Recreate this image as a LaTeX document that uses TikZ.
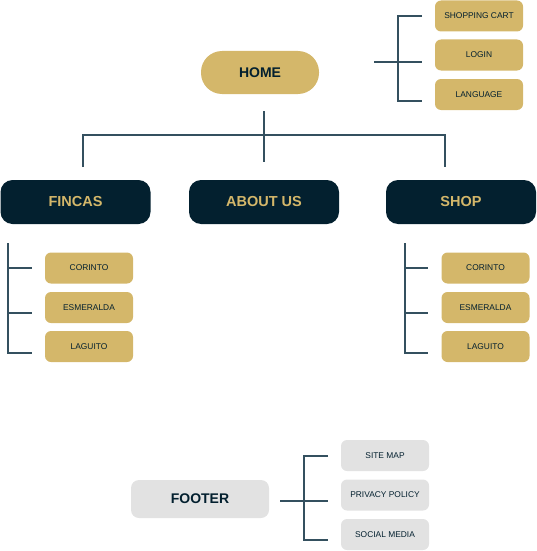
\documentclass[tikz,border=0pt]{standalone}
\usepackage{fontspec}
\setmainfont{Liberation Sans}
\definecolor{gold}{HTML}{D4B76A}
\definecolor{navy}{HTML}{03202F}
\definecolor{lgray}{HTML}{E2E2E2}
\definecolor{linec}{HTML}{34505F}
\begin{document}
\begin{tikzpicture}[x=1pt,y=-1pt,
  homebox/.style={fill=gold,text=navy,minimum width=118pt,minimum height=43pt,inner sep=0pt,rounded corners=21pt,font=\bfseries\fontsize{14}{16}\selectfont},
  mainbox/.style={fill=navy,text=gold,minimum width=150pt,minimum height=44pt,inner sep=0pt,rounded corners=12pt,font=\bfseries\fontsize{14.5}{16}\selectfont},
  smallbox/.style={fill=gold,text=navy,minimum width=88pt,minimum height=31pt,inner sep=0pt,rounded corners=6pt,font=\fontsize{8.4}{9}\selectfont},
  graybox/.style={fill=lgray,text=navy,minimum width=88pt,minimum height=31pt,inner sep=0pt,rounded corners=6pt,font=\fontsize{8.4}{9}\selectfont},
  footbox/.style={fill=lgray,text=navy,minimum width=138pt,minimum height=38pt,inner sep=0pt,rounded corners=8pt,font=\bfseries\fontsize{14}{16}\selectfont},
  link/.style={draw=linec,line width=1.25pt}]
\useasboundingbox (0,0) rectangle (537,551);

% nodes
\node[homebox] (home) at (260,72.5) {HOME};
\node[smallbox] (cart) at (479,16) {SHOPPING CART};
\node[smallbox] (login) at (479,55) {LOGIN};
\node[smallbox] (lang) at (479,94.5) {LANGUAGE};

\node[mainbox] (fincas) at (75.5,202) {FINCAS};
\node[mainbox] (about) at (264,202) {ABOUT US};
\node[mainbox] (shop) at (461,202) {SHOP};

\node[smallbox] (lcor) at (89,268) {CORINTO};
\node[smallbox] (lesm) at (89,307.5) {ESMERALDA};
\node[smallbox] (llag) at (89,346.5) {LAGUITO};

\node[smallbox] (rcor) at (485.5,268) {CORINTO};
\node[smallbox] (resm) at (485.5,307.5) {ESMERALDA};
\node[smallbox] (rlag) at (485.5,346.5) {LAGUITO};

\node[footbox] (footer) at (200,499) {FOOTER};
\node[graybox] (site) at (385,455.5) {SITE MAP};
\node[graybox] (priv) at (385,495) {PRIVACY POLICY};
\node[graybox] (soc) at (385,534.5) {SOCIAL MEDIA};

% top-right bracket
\coordinate (hb0) at (374,62);
\coordinate (hbt) at (398,16);
\coordinate (hbb) at (398,101);
\coordinate (hb1) at (422,16);
\coordinate (hb2) at (422,62);
\coordinate (hb3) at (422,101);
\draw[link] (hb0) -- (hb2);
\draw[link] (hb1) -- (hbt) -- (hbb) -- (hb3);

% tree
\coordinate (t0) at (264,111);
\coordinate (t1) at (264,162);
\coordinate (tl) at (83,167);
\coordinate (tlt) at (83,135);
\coordinate (trt) at (445,135);
\coordinate (tr) at (445,167);
\draw[link] (t0) -- (t1);
\draw[link] (tl) -- (tlt) -- (trt) -- (tr);

% left bracket
\coordinate (lt) at (8,243);
\coordinate (l1a) at (8,268);
\coordinate (l1) at (32,268);
\coordinate (l2a) at (8,313);
\coordinate (l2) at (32,313);
\coordinate (lb) at (8,353);
\coordinate (l3) at (32,353);
\draw[link] (lt) -- (lb) -- (l3);
\draw[link] (l1a) -- (l1);
\draw[link] (l2a) -- (l2);

% right bracket
\coordinate (rt) at (405,243);
\coordinate (r1a) at (405,268);
\coordinate (r1) at (428,268);
\coordinate (r2a) at (405,313);
\coordinate (r2) at (428,313);
\coordinate (rb) at (405,353);
\coordinate (r3) at (428,353);
\draw[link] (rt) -- (rb) -- (r3);
\draw[link] (r1a) -- (r1);
\draw[link] (r2a) -- (r2);

% footer bracket
\coordinate (f0) at (280,501);
\coordinate (f2) at (328,501);
\coordinate (ft) at (304,456);
\coordinate (fb) at (304,540);
\coordinate (f1) at (328,456);
\coordinate (f3) at (328,540);
\draw[link] (f0) -- (f2);
\draw[link] (f1) -- (ft) -- (fb) -- (f3);
\end{tikzpicture}
\end{document}
